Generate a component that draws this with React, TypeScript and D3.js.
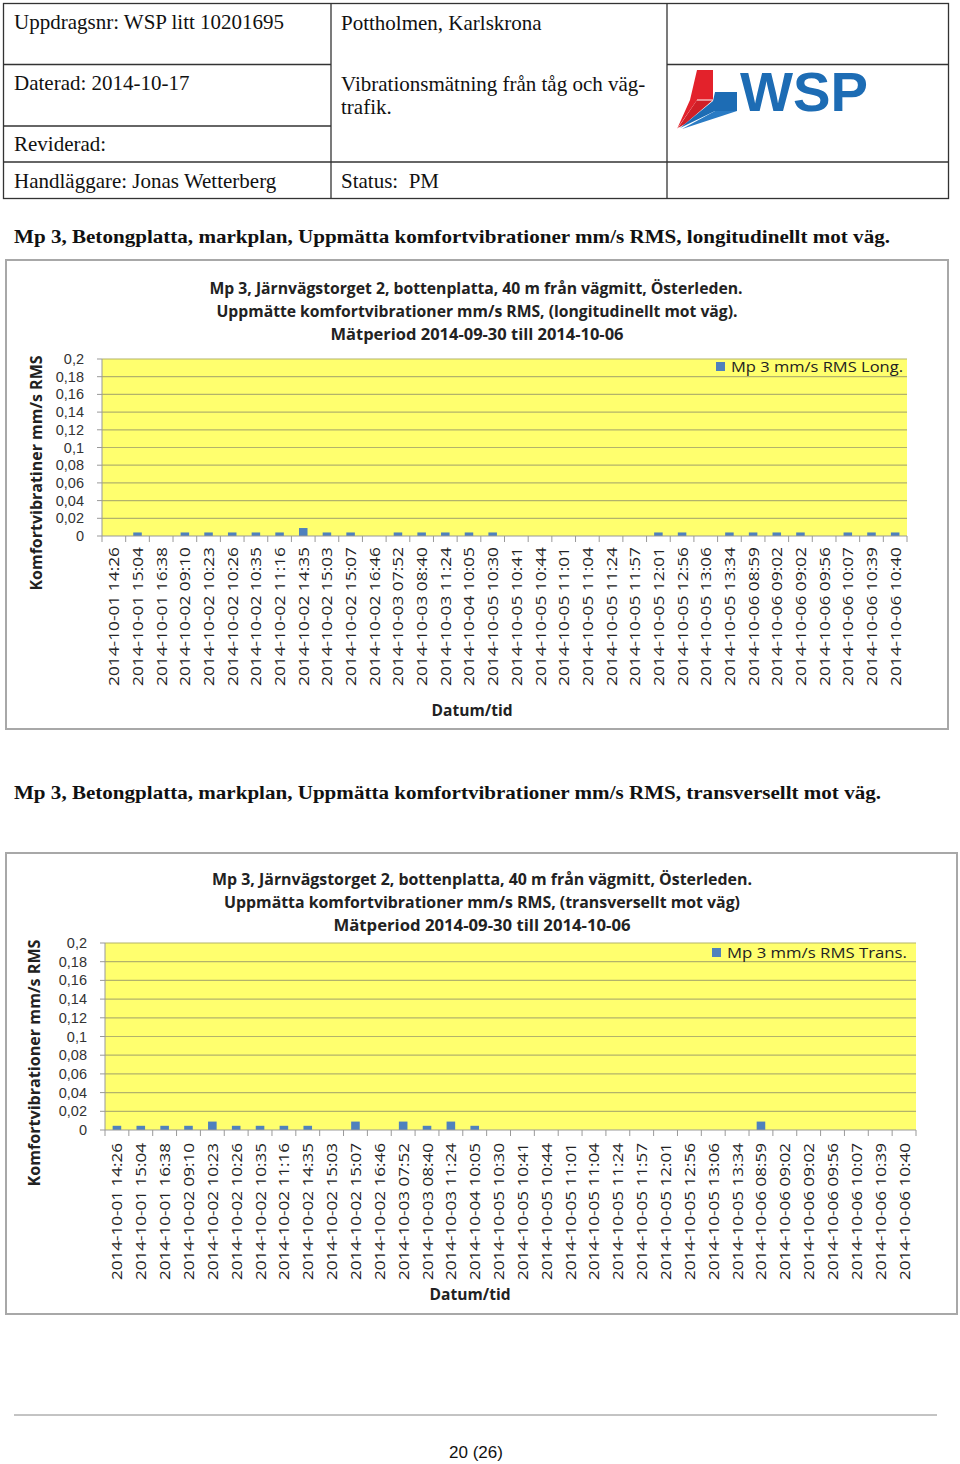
import React from "react";
import * as d3 from "d3";

const categories = [
  "2014-10-01 14:26", "2014-10-01 15:04", "2014-10-01 16:38", "2014-10-02 09:10",
  "2014-10-02 10:23", "2014-10-02 10:26", "2014-10-02 10:35", "2014-10-02 11:16",
  "2014-10-02 14:35", "2014-10-02 15:03", "2014-10-02 15:07", "2014-10-02 16:46",
  "2014-10-03 07:52", "2014-10-03 08:40", "2014-10-03 11:24", "2014-10-04 10:05",
  "2014-10-05 10:30", "2014-10-05 10:41", "2014-10-05 10:44", "2014-10-05 11:01",
  "2014-10-05 11:04", "2014-10-05 11:24", "2014-10-05 11:57", "2014-10-05 12:01",
  "2014-10-05 12:56", "2014-10-05 13:06", "2014-10-05 13:34", "2014-10-06 08:59",
  "2014-10-06 09:02", "2014-10-06 09:02", "2014-10-06 09:56", "2014-10-06 10:07",
  "2014-10-06 10:39", "2014-10-06 10:40",
];

const longValues = [
  0, 0.004, 0, 0.004, 0.004, 0.004, 0.004, 0.004, 0.009, 0.004, 0.004, 0,
  0.004, 0.004, 0.004, 0.004, 0.004, 0, 0, 0, 0, 0, 0, 0.004, 0.004, 0,
  0.004, 0.004, 0.004, 0.004, 0, 0.004, 0.004, 0.004,
];

const transValues = [
  0.0045, 0.0045, 0.0045, 0.0045, 0.009, 0.0045, 0.0045, 0.0045, 0.0045, 0, 0.009, 0,
  0.009, 0.0045, 0.009, 0.0045, 0, 0, 0, 0, 0, 0, 0, 0, 0, 0, 0, 0.009,
  0, 0, 0, 0, 0, 0,
];

const yTicks = [0, 0.02, 0.04, 0.06, 0.08, 0.1, 0.12, 0.14, 0.16, 0.18, 0.2];
const yTickLabels = ["0", "0,02", "0,04", "0,06", "0,08", "0,1", "0,12", "0,14", "0,16", "0,18", "0,2"];

const chart1Titles = [
  "Mp 3, Järnvägstorget 2, bottenplatta, 40 m från vägmitt, Österleden.",
  "Uppmätte komfortvibrationer mm/s RMS, (longitudinellt mot väg).",
  "Mätperiod 2014-09-30 till 2014-10-06",
];
const chart2Titles = [
  "Mp 3, Järnvägstorget 2, bottenplatta, 40 m från vägmitt, Österleden.",
  "Uppmätta komfortvibrationer mm/s RMS, (transversellt mot väg)",
  "Mätperiod 2014-09-30 till 2014-10-06",
];

const SANS = "'Open Sans', 'Liberation Sans', Arial, sans-serif";
const ARIAL = "'Liberation Sans', Arial, sans-serif";
const SERIF = "'Liberation Serif', 'Times New Roman', serif";
const BAR = "#4F81BD";
const GRID = "#B3B36B";

type ChartProps = {
  frame: { x: number; y: number; w: number; h: number };
  plot: { l: number; t: number; r: number; b: number };
  titles: string[];
  titleLines: { cx: number; y: number; len: number }[];
  legend: { x: number; y: number; text: string; len: number };
  values: number[];
  yTitle: string;
  yTitlePos: { cx: number; cy: number; len: number };
  xTitlePos: { cx: number; y: number; len: number };
  labelTop: number;
  labelLen: number;
};

function Chart(p: ChartProps) {
  const x = d3.scaleBand<string>().domain(categories.map((c, i) => i + "")).range([p.plot.l, p.plot.r]).paddingInner(0).paddingOuter(0);
  const y = d3.scaleLinear().domain([0, 0.2]).range([p.plot.b, p.plot.t]);
  const bw = x.bandwidth();
  const barW = bw * 0.36;
  return (
    <g>
      <rect x={p.frame.x} y={p.frame.y} width={p.frame.w} height={p.frame.h} fill="#fff" stroke="#A8A8A8" strokeWidth={2} />
      {p.titles.map((t, i) => (
        <text key={i} x={p.titleLines[i].cx} y={p.titleLines[i].y} textAnchor="middle" fontFamily={SANS} fontWeight="bold"
          fontSize={16} fill="#222" textLength={p.titleLines[i].len} lengthAdjust="spacingAndGlyphs">{t}</text>
      ))}
      <rect x={p.plot.l} y={p.plot.t} width={p.plot.r - p.plot.l} height={p.plot.b - p.plot.t} fill="#FFFF6E" />
      {yTicks.map((v, i) => (
        <g key={i}>
          {i > 0 && <line x1={p.plot.l} x2={p.plot.r} y1={y(v)} y2={y(v)} stroke={GRID} strokeWidth={1.2} />}
          <line x1={p.plot.l - 5} x2={p.plot.l} y1={y(v)} y2={y(v)} stroke="#999" strokeWidth={1} />
          <text x={p.plot.l - 18} y={y(v)} dy="0.35em" textAnchor="end" fontFamily={ARIAL} fontSize={14.5} fill="#333">{yTickLabels[i]}</text>
        </g>
      ))}
      <line x1={p.plot.l} x2={p.plot.l} y1={p.plot.t} y2={p.plot.b} stroke="#999" strokeWidth={1} />
      {p.values.map((v, i) => v > 0 ? (
        <rect key={i} x={(x(i + "") as number) + bw / 2 - barW / 2} y={y(v)} width={barW} height={y(0) - y(v)} fill={BAR} />
      ) : null)}
      <line x1={p.plot.l} x2={p.plot.r} y1={p.plot.b} y2={p.plot.b} stroke="#999" strokeWidth={1} />
      {d3.range(categories.length + 1).map((i) => {
        const xx = p.plot.l + i * bw;
        return <line key={i} x1={xx} x2={xx} y1={p.plot.b} y2={p.plot.b + 6} stroke="#999" strokeWidth={1} />;
      })}
      {categories.map((c, i) => {
        const cx = (x(i + "") as number) + bw / 2 + 5.5;
        return (
          <text key={i} transform={`translate(${cx},${p.labelTop}) rotate(-90)`} textAnchor="end" fontFamily={SANS}
            fontSize={15} fill="#222" textLength={p.labelLen} lengthAdjust="spacingAndGlyphs">{c}</text>
        );
      })}
      <text transform={`translate(${p.yTitlePos.cx + 6},${p.yTitlePos.cy}) rotate(-90)`} textAnchor="middle" fontFamily={SANS}
        fontWeight="bold" fontSize={16} fill="#222" textLength={p.yTitlePos.len} lengthAdjust="spacingAndGlyphs">{p.yTitle}</text>
      <text x={p.xTitlePos.cx} y={p.xTitlePos.y} textAnchor="middle" fontFamily={SANS} fontWeight="bold" fontSize={16} fill="#222"
        textLength={p.xTitlePos.len} lengthAdjust="spacingAndGlyphs">Datum/tid</text>
      <rect x={p.legend.x} y={p.legend.y - 10} width={9} height={9} fill={BAR} />
      <text x={p.legend.x + 15} y={p.legend.y} fontFamily={SANS} fontSize={15} fill="#222" textLength={p.legend.len}
        lengthAdjust="spacingAndGlyphs">{p.legend.text}</text>
    </g>
  );
}

export default function App() {
  const cell = { fontFamily: SERIF, fontSize: 21, fill: "#111" } as const;
  return (
    <svg width={960} height={1464} style={{ position: "absolute", left: 0, top: 0, background: "#fff" }}>
      <rect x={0} y={0} width={960} height={1464} fill="#fff" />
      <g stroke="#333" strokeWidth={1.3} fill="none">
        <rect x={3.5} y={3.5} width={945} height={195} />
        <line x1={331} x2={331} y1={3.5} y2={198.5} />
        <line x1={667} x2={667} y1={3.5} y2={198.5} />
        <line x1={3.5} x2={331} y1={64.5} y2={64.5} />
        <line x1={667} x2={948.5} y1={64.5} y2={64.5} />
        <line x1={3.5} x2={331} y1={126} y2={126} />
        <line x1={3.5} x2={948.5} y1={162} y2={162} />
      </g>
      <text x={14} y={29} {...cell}>Uppdragsnr: WSP litt 10201695</text>
      <text x={341} y={30} {...cell}>Pottholmen, Karlskrona</text>
      <text x={14} y={90} {...cell}>Daterad: 2014-10-17</text>
      <text x={341} y={91} {...cell}>Vibrationsmätning från tåg och väg-</text>
      <text x={341} y={114} {...cell}>trafik.</text>
      <text x={14} y={151} {...cell}>Reviderad:</text>
      <text x={14} y={188} {...cell}>Handläggare: Jonas Wetterberg</text>
      <text x={341} y={188} {...cell}>{"Status:\u00a0 PM"}</text>
      <g>
        <polygon points="697,70 713,70 713,100 697,100" fill="#E3222B" />
        <polygon points="697,70 697,100 679,126 677,129 690,100" fill="#E3222B" />
        <polygon points="697,100 713,100 685,124 678,128" fill="#D01F27" />
        <line x1={697} y1={100} x2={713} y2={100} stroke="#fff" strokeWidth={1} />
        <polygon points="715,92 737,92 737,111 715,111" fill="#1D6CB4" />
        <polygon points="713,101 715,92 715,111 680,128" fill="#1D6CB4" />
        <polygon points="715,111 737,111 682,129" fill="#2A7BC4" />
        <text x={740} y={111} fontFamily={ARIAL} fontWeight="bold" fontSize={56} fill="#1D6CB4"
          textLength={128} lengthAdjust="spacingAndGlyphs">WSP</text>
      </g>
      <text x={14} y={243} fontFamily={SERIF} fontWeight="bold" fontSize={19} fill="#111" textLength={876} lengthAdjust="spacingAndGlyphs">
        Mp 3, Betongplatta, markplan, Uppmätta komfortvibrationer mm/s RMS, longitudinellt mot väg.
      </text>
      <Chart
        frame={{ x: 6, y: 260, w: 942, h: 469 }}
        plot={{ l: 102, t: 359, r: 907, b: 536 }}
        titles={chart1Titles}
        titleLines={[{ cx: 476, y: 294, len: 533 }, { cx: 477, y: 317, len: 521 }, { cx: 477, y: 340, len: 293 }]}
        legend={{ x: 716, y: 372, text: "Mp 3 mm/s RMS Long.", len: 172 }}
        values={longValues}
        yTitle="Komfortvibratiner mm/s RMS"
        yTitlePos={{ cx: 36, cy: 473, len: 235 }}
        xTitlePos={{ cx: 472, y: 716, len: 81 }}
        labelTop={547}
        labelLen={139}
      />
      <text x={14} y={799} fontFamily={SERIF} fontWeight="bold" fontSize={19} fill="#111" textLength={867} lengthAdjust="spacingAndGlyphs">
        Mp 3, Betongplatta, markplan, Uppmätta komfortvibrationer mm/s RMS, transversellt mot väg.
      </text>
      <Chart
        frame={{ x: 6, y: 853, w: 951, h: 461 }}
        plot={{ l: 105, t: 943, r: 916, b: 1130 }}
        titles={chart2Titles}
        titleLines={[{ cx: 482, y: 885, len: 540 }, { cx: 482, y: 908, len: 516 }, { cx: 482, y: 931, len: 297 }]}
        legend={{ x: 712, y: 958, text: "Mp 3 mm/s RMS Trans.", len: 180 }}
        values={transValues}
        yTitle="Komfortvibrationer mm/s RMS"
        yTitlePos={{ cx: 34, cy: 1063, len: 247 }}
        xTitlePos={{ cx: 470, y: 1300, len: 81 }}
        labelTop={1143}
        labelLen={137}
      />
      <line x1={14} x2={937} y1={1415} y2={1415} stroke="#888" strokeWidth={1} />
      <text x={476} y={1458} textAnchor="middle" fontFamily={ARIAL} fontSize={17} fill="#111">20 (26)</text>
    </svg>
  );
}
